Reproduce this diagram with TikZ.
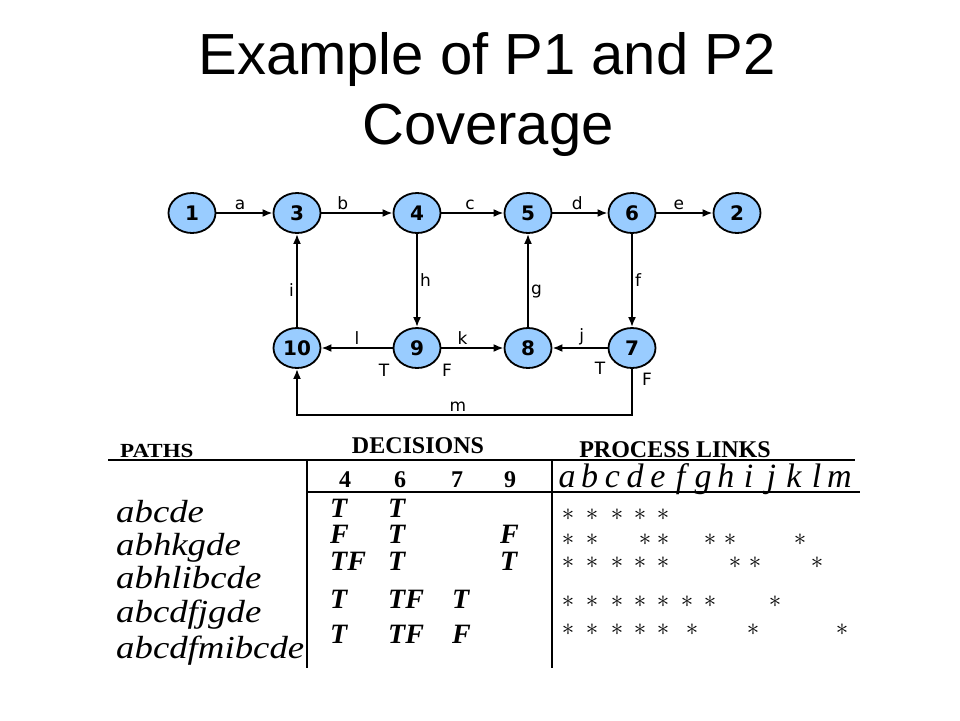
\documentclass[tikz,border=0pt]{standalone}
\usepackage{fontspec}
\setmainfont{Liberation Serif}
\setsansfont{Liberation Sans}
\newfontfamily\graphfont{DejaVu Sans}
\newfontfamily\tablefont[FakeStretch=1.15]{Liberation Serif}
\usetikzlibrary{arrows.meta,positioning,shapes.geometric}
\definecolor{nodeblue}{RGB}{153,204,255}

\tikzset{
  vertex/.style={ellipse, draw, line width=1.8pt, fill=nodeblue, minimum width=47pt, minimum height=40pt, inner sep=0pt,
                 font=\graphfont\bfseries\fontsize{20}{20}\selectfont},
  link/.style={-{Latex[length=10pt,width=8pt]}, line width=2.2pt},
  lbl/.style={font=\graphfont\fontsize{17}{17}\selectfont, inner sep=2pt},
  rule/.style={line width=1.8pt},
  pathtxt/.style={anchor=base west, inner sep=0pt, font=\tablefont\itshape\fontsize{32}{32}\selectfont},
  tf/.style={anchor=base west, inner sep=0pt, font=\bfseries\itshape\fontsize{28}{28}\selectfont},
  head/.style={anchor=base, inner sep=0pt, font=\bfseries\fontsize{24}{24}\selectfont},
  star/.style={inner sep=0pt, font=\fontsize{32}{32}\selectfont}
}

\begin{document}
\begin{tikzpicture}[x=1pt,y=-1pt]
                \useasboundingbox (0,0) rectangle (960,720);

                % title
                \node[anchor=base, font=\sffamily\fontsize{58}{58}\selectfont] (title1) at (487,74) {Example of P1 and P2};
                \node[anchor=base, font=\sffamily\fontsize{58}{58}\selectfont] (title2) at (488,144) {Coverage};

                % flow graph
                \node[vertex] (n1) at (192,213) {1};
                \node[vertex] (n3) at (297,213) {3};
                \node[vertex] (n4) at (417,213) {4};
                \node[vertex] (n5) at (528,213) {5};
                \node[vertex] (n6) at (632,213) {6};
                \node[vertex] (n2) at (737,213) {2};
                \node[vertex] (n10) at (297,348) {10};
                \node[vertex] (n9) at (417,348) {9};
                \node[vertex] (n8) at (528,348) {8};
                \node[vertex] (n7) at (632,348) {7};
                \coordinate (mbase) at (0,415);

                \draw[link] (n1) -- (n3) node[lbl,above,pos=.42] {a};
                \draw[link] (n3) -- (n4) node[lbl,above,pos=.3] {b};
                \draw[link] (n4) -- (n5) node[lbl,above,pos=.46] {c};
                \draw[link] (n5) -- (n6) node[lbl,above,pos=.45] {d};
                \draw[link] (n6) -- (n2) node[lbl,above,pos=.4] {e};
                \draw[link] (n6) -- (n7) node[lbl,right,pos=.5] {f};
                \draw[link] (n8) -- (n5) node[lbl,right,pos=.38] {g};
                \draw[link] (n4) -- (n9) node[lbl,right,pos=.5] {h};
                \draw[link] (n10) -- (n3) node[lbl,left,pos=.4] {i};
                \draw[link] (n7) -- (n8) node[lbl,above,pos=.47] {j};
                \draw[link] (n9) -- (n8) node[lbl,above,pos=.34] {k};
                \draw[link] (n9) -- (n10) node[lbl,above,pos=.5] {l};
                \draw[link] (n7) -- (n7 |- mbase) -| node[lbl,above,pos=.26] {m} (n10);

                \node[lbl] (t9) at (384,370) {T};
                \node[lbl] (f9) at (447,370) {F};
                \node[lbl] (t7) at (600,368) {T};
                \node[lbl] (f7) at (647,379) {F};

                % coverage table
                \draw[rule] (108,460) -- (855,460);
                \draw[rule] (307,492) -- (860,492);
                \draw[rule] (307,460) -- (307,668);
                \draw[rule] (552,460) -- (552,668);

                \node[head,anchor=base west,font=\tablefont\bfseries\fontsize{20}{20}\selectfont] (hpaths) at (120,457) {PATHS};
                \node[head] (hdec) at (418,453) {DECISIONS};
                \node[head] (hlinks) at (675,457) {PROCESS LINKS};
                \foreach \d/\x in {4/345,6/400,7/457,9/510}
                    \node[head] (dec\d) at (\x,487) {\d};
                \foreach \l [count=\i from 0] in {a,b,c,d,e,f,g,h,i,j,k,l,m}
                    \node[anchor=base, inner sep=0pt, font=\itshape\fontsize{34}{34}\selectfont] (link\l) at (567+22.7*\i,487) {\l};

                % paths
                \node[pathtxt] (p1) at (116,522) {abcde};
                \node[pathtxt] (p2) at (116,555) {abhkgde};
                \node[pathtxt] (p3) at (116,588) {abhlibcde};
                \node[pathtxt] (p4) at (116,622) {abcdfjgde};
                \node[pathtxt] (p5) at (116,658) {abcdfmibcde};

                % decisions
                \node[tf] (r1d4) at (330,517) {T};  \node[tf] (r1d6) at (388,517) {T};
                \node[tf] (r2d4) at (330,543) {F};  \node[tf] (r2d6) at (388,543) {T};  \node[tf] (r2d9) at (500,543) {F};
                \node[tf] (r3d4) at (330,570) {TF}; \node[tf] (r3d6) at (388,570) {T};  \node[tf] (r3d9) at (500,570) {T};
                \node[tf] (r4d4) at (330,608) {T};  \node[tf] (r4d6) at (388,608) {TF}; \node[tf] (r4d7) at (452,608) {T};
                \node[tf] (r5d4) at (330,643) {T};  \node[tf] (r5d6) at (388,643) {TF}; \node[tf] (r5d7) at (452,643) {F};

                % process links hit
                \foreach \y/\xs in {515/{568,592,617,640,663},
                                    540/{568,592,645,663,710,730,800},
                                    563/{568,592,617,640,663,735,755,817},
                                    602/{568,592,617,640,663,687,710,775},
                                    630/{568,592,617,640,663,692,753,842}}
                    \foreach \x in \xs
                        \node[star] (s-\y-\x) at (\x,\y) {$\ast$};
            \end{tikzpicture}
\end{document}
